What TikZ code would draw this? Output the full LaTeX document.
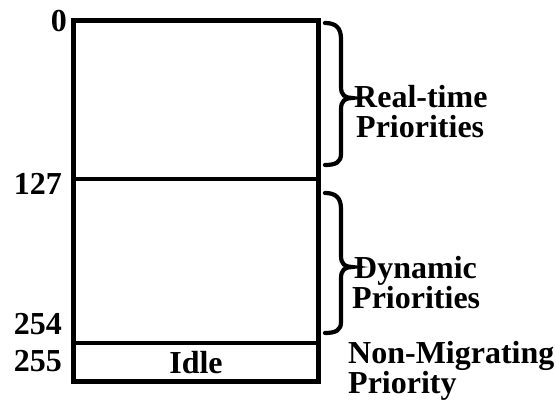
\documentclass[tikz,border=0pt]{standalone}
\usepackage{fontspec}
\setmainfont{Liberation Serif}
\begin{document}
\begin{tikzpicture}[x=1pt,y=1pt,
  cell/.style={draw, line width=4.8pt, minimum width=245pt, inner sep=0pt, font=\bfseries\fontsize{32}{28}\selectfont},
  lbl/.style={inner sep=0pt, font=\bfseries\fontsize{32}{28}\selectfont},
  second/.style={text height=21pt},
  brc/.style={line width=4.2pt, line cap=round}]
\useasboundingbox (0,0) rectangle (556,401);
\node[cell, minimum height=158.5pt] (rt) at (196,301.25) {};
\node[cell, minimum height=164pt] (dyn) at (196,140) {};
\node[cell, minimum height=38.5pt] (idle) at (196,38.75) {Idle};
% numbers
\node[lbl, anchor=base east] (n0) at (67,369) {0};
\node[lbl, anchor=base east] (n127) at (62,206) {127};
\node[lbl, anchor=base east] (n254) at (62,66) {254};
\node[lbl, anchor=base east] (n255) at (62,29) {255};
% braces
\draw[brc] (325,378) .. controls (336,378) and (341,373) .. (341,362) -- (341,314)
  .. controls (341,306) and (345,303) .. (352,303)
  .. controls (345,303) and (341,300) .. (341,292) -- (341,247)
  .. controls (341,239) and (336,236) .. (325,236);
\draw[brc] (325,208) .. controls (336,208) and (341,203) .. (341,192) -- (341,145)
  .. controls (341,137) and (345,134) .. (352,134)
  .. controls (345,134) and (341,131) .. (341,123) -- (341,79)
  .. controls (341,71) and (336,68) .. (325,68);
% labels
\node[lbl, anchor=base west] (rt1) at (354,293) {Real-time};
\node[lbl, second, anchor=base west] (rt2) at (356,263) {Priorities};
\node[lbl, anchor=base west] (dy1) at (354,122) {Dynamic};
\node[lbl, second, anchor=base west] (dy2) at (352,92) {Priorities};
\node[lbl, anchor=base west] (nm1) at (348,37) {Non-Migrating};
\node[lbl, second, anchor=base west] (nm2) at (348,8) {Priority};
\end{tikzpicture}
\end{document}
